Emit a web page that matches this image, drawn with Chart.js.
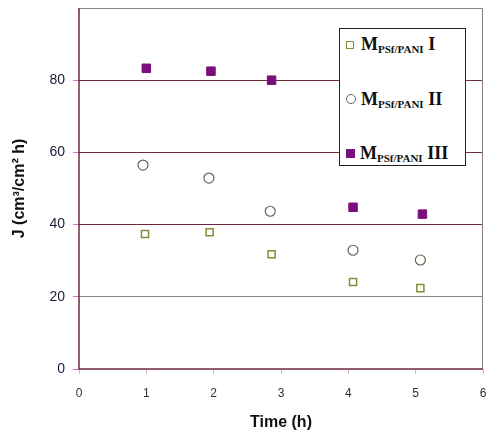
<!DOCTYPE html>
<html>
<head>
<meta charset="utf-8">
<script src="https://cdn.jsdelivr.net/npm/chart.js@4/dist/chart.umd.min.js"></script>
<style>
  html, body { margin: 0; padding: 0; background: #fff; overflow: hidden; }
  #wrap { position: relative; width: 487px; height: 436px; overflow: hidden; }
  #legendBox {
    position: absolute; left: 339px; top: 28px; width: 127px; height: 138px;
    border: 1px solid #222; background: #fff; box-sizing: border-box;
    font-family: "Liberation Serif", "DejaVu Serif", serif; font-weight: bold; color: #111;
  }
  .item { position: absolute; left: 6px; height: 20px; line-height: 20px; font-size: 18px; white-space: nowrap; }
  .item sub { font-size: 11px; vertical-align: -3px; }
  .mk { display: inline-block; margin-right: 7px; vertical-align: 1px; box-sizing: border-box; }
</style>
</head>
<body>
<div id="wrap">
  <canvas id="chart" width="490" height="436"></canvas>
  <div id="legendBox">
    <div class="item" style="top:5px"><span class="mk" style="width:8px;height:8px;border:1.5px solid #8a8a3a"></span>M<sub>PSf/PANI</sub> I</div>
    <div class="item" style="top:60px"><span class="mk" style="width:10px;height:10px;border:1.5px solid #666;border-radius:50%;margin-right:5px"></span>M<sub>PSf/PANI</sub> II</div>
    <div class="item" style="top:114px"><span class="mk" style="width:9px;height:9px;background:#7a0e7a;margin-right:5px"></span>M<sub>PSf/PANI</sub> III</div>
  </div>
</div>
<script>
// ===== DATA =====
const timeI   = [0.98, 1.94, 2.86, 4.07, 5.07];
const fluxI   = [37.4, 37.9, 31.8, 24.1, 22.4];
const timeII  = [0.95, 1.93, 2.84, 4.07, 5.07];
const fluxII  = [56.5, 52.9, 43.7, 32.9, 30.2];
const timeIII = [1.0, 1.96, 2.86, 4.07, 5.1];
const fluxIII = [83.3, 82.5, 80.0, 44.8, 42.9];
const xTicks = [0, 1, 2, 3, 4, 5, 6];
const yTicks = [0, 20, 40, 60, 80];

const toPts = (xs, ys) => xs.map((x, i) => ({ x, y: ys[i] }));

// frame round the plot area
const framePlugin = {
  id: 'frame',
  beforeDatasetsDraw(chart) {
    const { ctx, chartArea: a } = chart;
    ctx.save();
    ctx.strokeStyle = '#8c7d8c';
    ctx.lineWidth = 1;
    ctx.beginPath();
    ctx.moveTo(a.left, a.top + 0.5);
    ctx.lineTo(a.right - 0.5, a.top + 0.5);
    ctx.lineTo(a.right - 0.5, a.bottom);
    ctx.stroke();
    ctx.strokeStyle = '#6e2a3a';
    ctx.lineWidth = 1.5;
    ctx.beginPath();
    ctx.moveTo(a.left, a.top);
    ctx.lineTo(a.left, a.bottom);
    ctx.lineTo(a.right, a.bottom);
    ctx.stroke();
    ctx.restore();
  }
};

new Chart(document.getElementById('chart').getContext('2d'), {
  type: 'scatter',
  data: {
    datasets: [
      {
        label: 'I',
        data: toPts(timeI, fluxI),
        pointStyle: 'rect',
        pointRadius: 5,
        borderColor: '#8a8a3a',
        backgroundColor: '#fff',
        borderWidth: 1.5
      },
      {
        label: 'II',
        data: toPts(timeII, fluxII),
        pointStyle: 'circle',
        pointRadius: 5,
        borderColor: '#666655',
        backgroundColor: '#fff',
        borderWidth: 1.2
      },
      {
        label: 'III',
        data: toPts(timeIII, fluxIII),
        pointStyle: 'rect',
        pointRadius: 6,
        borderColor: '#7a0e7a',
        backgroundColor: '#7a0e7a',
        borderWidth: 1
      }
    ]
  },
  options: {
    responsive: false,
    animation: false,
    layout: { padding: { top: 8, right: 0, left: 0, bottom: 0 } },
    plugins: {
      legend: { display: false },
      tooltip: { enabled: false }
    },
    scales: {
      x: {
        type: 'linear',
        min: 0, max: 6,
        afterBuildTicks: s => { s.ticks = xTicks.map(v => ({ value: v })); },
        grid: { drawOnChartArea: false, drawTicks: true, tickLength: 5, color: '#d9b0d9' },
        border: { display: false },
        ticks: { color: '#333', font: { family: 'Liberation Sans', size: 12 }, padding: 12 },
        title: {
          display: true, text: 'Time (h)', color: '#111',
          font: { family: 'Liberation Sans', size: 16, weight: 'bold' },
          padding: { top: 8 }
        },
        afterFit: s => { s.height = 67; s.paddingLeft = 0; s.paddingRight = 0; }
      },
      y: {
        min: 0, max: 100,
        afterBuildTicks: s => { s.ticks = yTicks.map(v => ({ value: v })); },
        grid: {
          color: ['rgba(0,0,0,0)', '#8c7d8c', '#6e2a3a', '#6e2a3a', '#6e2a3a'],
          lineWidth: 1,
          tickLength: 6,
          tickColor: '#d070d0'
        },
        border: { display: false },
        ticks: { color: '#1a1a3a', font: { family: 'Liberation Sans', size: 14 }, padding: 8 },
        title: {
          display: true, text: 'J (cm\u00b3/cm\u00b2 h)', color: '#111',
          font: { family: 'Liberation Sans', size: 16, weight: 'bold' },
          padding: { top: 10, bottom: 0 }
        },
        afterFit: s => { s.width = 79; s.paddingTop = 0; s.paddingBottom = 0; }
      }
    }
  },
  plugins: [framePlugin]
});
</script>
</body>
</html>
